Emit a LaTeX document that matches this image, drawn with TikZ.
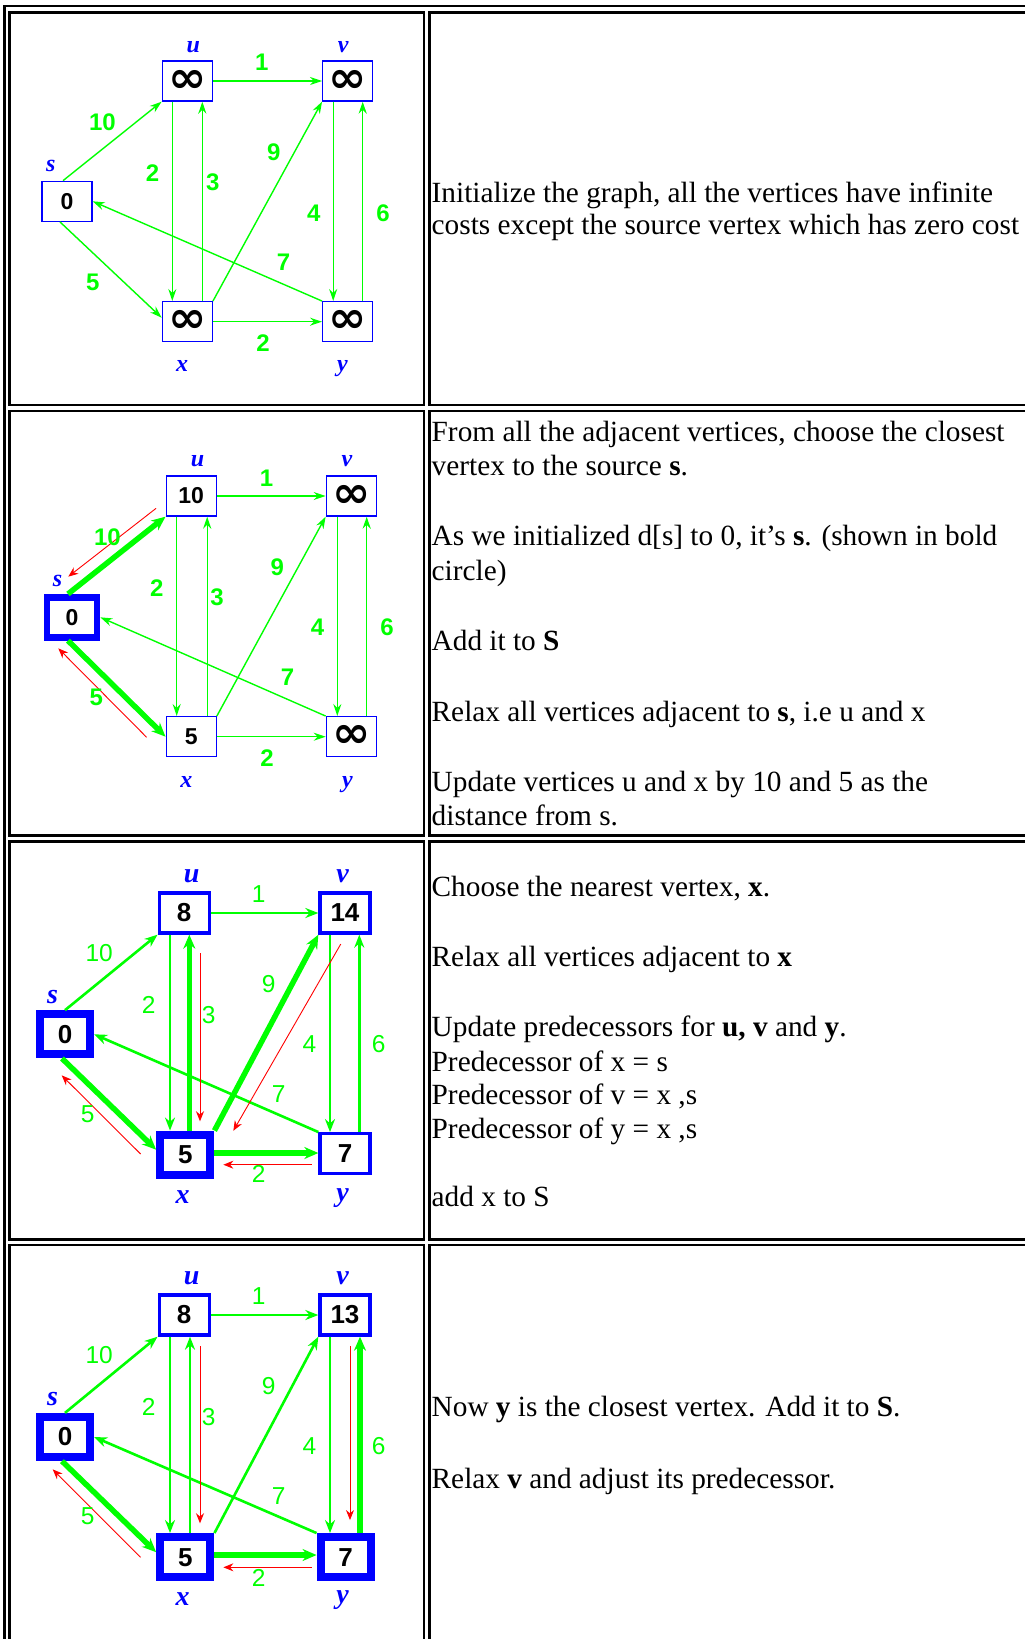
\documentclass[tikz,border=0pt]{standalone}
\usepackage{fontspec}
\usepackage{graphicx}
\setmainfont{Liberation Serif}
\setsansfont{Liberation Sans}
\newfontfamily\dejavu{DejaVu Sans}
\usetikzlibrary{arrows.meta}
\definecolor{vgreen}{RGB}{0,255,0}
\definecolor{vblue}{RGB}{0,0,255}
\definecolor{vred}{RGB}{255,0,0}
\newcommand\infglyph{\scalebox{2.0}[1.9]{\dejavu\bfseries ∞}}
\tikzset{
 cellline/.style={line width=2.7pt, draw=black},
 vbox/.style={draw=vblue, line width=#1, minimum width=50pt, minimum height=40pt, inner sep=0pt, text=black},
 valA/.style={font=\sffamily\bfseries\fontsize{23}{23}\selectfont},
 valB/.style={font=\sffamily\bfseries\fontsize{26}{26}\selectfont},
 vlabA/.style={anchor=base, inner sep=0pt, text=vblue, font=\rmfamily\bfseries\itshape\fontsize{24}{24}\selectfont},
 vlabB/.style={anchor=base, inner sep=0pt, text=vblue, font=\rmfamily\bfseries\itshape\fontsize{28}{28}\selectfont},
 wlabA/.style={inner sep=0pt, text=vgreen, font=\sffamily\bfseries\fontsize{24}{24}\selectfont},
 wlabB/.style={inner sep=0pt, text=vgreen, font=\sffamily\fontsize{24.5}{24.5}\selectfont},
 gthin/.style={draw=vgreen, line width=1.4pt, -{Stealth[length=12pt,width=8pt]}},
 gmed/.style={draw=vgreen, line width=2.6pt, -{Stealth[length=13pt,width=10pt]}},
 gthick/.style={draw=vgreen, line width=5.5pt, -{Stealth[length=14pt,width=12pt]}},
 redarr/.style={draw=vred, line width=0.9pt, -{Stealth[length=10pt,width=8pt]}},
 txt/.style={anchor=base west, inner sep=0pt, font=\fontsize{29.3}{33}\selectfont},
}
\begin{document}
\begin{tikzpicture}[x=1pt,y=-1pt]
\useasboundingbox (0,0) rectangle (1025,1639);
\clip (0,0) rectangle (1025,1639);
\fill[white] (0,0) rectangle (1025,1639);
% ---------- table ----------
\draw[cellline] (4.3,1660) -- (4.3,6) -- (1040,6);
\draw[cellline] (9.3,12.2) rectangle (424,405);
\draw[cellline] (429.3,12.2) rectangle (1040,405);
\draw[cellline] (9.3,411) rectangle (424,835.5);
\draw[cellline] (429.3,411) rectangle (1040,835.5);
\draw[cellline] (9.3,841.3) rectangle (424,1239.5);
\draw[cellline] (429.3,841.3) rectangle (1040,1239.5);
\draw[cellline] (9.3,1660) -- (9.3,1245) -- (424,1245) -- (424,1660);
\draw[cellline] (429.3,1660) -- (429.3,1245) -- (1040,1245);

% ---------- graph 1 ----------
\node[vbox=1.3pt, valA] (as) at (67,201.3) {0};
\node[vbox=1.3pt, valA] (au) at (187.3,81) {\infglyph};
\node[vbox=1.3pt, valA] (av) at (347.7,81) {\infglyph};
\node[vbox=1.3pt, valA] (ax) at (187.3,321.7) {\infglyph};
\node[vbox=1.3pt, valA] (ay) at (347.7,321.7) {\infglyph};
\node[vlabA] (asl) at (50.8,171.7) {s};
\node[vlabA] (aul) at (193.3,52.3) {u};
\node[vlabA] (avl) at (343.3,52.3) {v};
\node[vlabA] (axl) at (182.2,371.7) {x};
\node[vlabA] (ayl) at (342.5,371.7) {y};
\draw[gthin] ([xshift=-4pt]as.north) -- (au.south west);
\draw[gthin] ([xshift=-7pt]as.south) -- ([yshift=4pt]ax.west);
\draw[gthin] (au.east) -- (av.west);
\draw[gthin] ([xshift=-15pt]au.south) -- ([xshift=-15pt]ax.north);
\draw[gthin] ([xshift=15pt]ax.north) -- ([xshift=15pt]au.south);
\draw[gthin] (ax.north east) -- (av.south west);
\draw[gthin] ([xshift=-14.5pt]av.south) -- ([xshift=-14.5pt]ay.north);
\draw[gthin] ([xshift=15pt]ay.north) -- ([xshift=15pt]av.south);
\draw[gthin] (ay.north west) -- (as.east);
\draw[gthin] (ax.east) -- (ay.west);
\node[wlabA] (aw10) at (102.5,122.7) {10};
\node[wlabA] (aw1) at (261.7,62.5) {1};
\node[wlabA] (aw2) at (152.5,173.3) {2};
\node[wlabA] (aw3) at (212.8,182.5) {3};
\node[wlabA] (aw9) at (273.7,152.5) {9};
\node[wlabA] (aw4) at (313.8,213.3) {4};
\node[wlabA] (aw6) at (383,212.8) {6};
\node[wlabA] (aw7) at (283.5,262.5) {7};
\node[wlabA] (aw5) at (92.7,282.5) {5};
\node[wlabA] (aw2b) at (263,343.5) {2};

% ---------- graph 2 ----------
\node[vbox=6.7pt, valA] (bs) at (72,617.3) {0};
\node[vbox=1.3pt, valA] (bu) at (191.2,496) {10};
\node[vbox=1.3pt, valA] (bv) at (351.3,496) {\infglyph};
\node[vbox=1.3pt, valA] (bx) at (191.2,736.7) {5};
\node[vbox=1.3pt, valA] (by) at (351.3,736.7) {\infglyph};
\node[vlabA] (bsl) at (57.5,586.7) {s};
\node[vlabA] (bul) at (197.5,466) {u};
\node[vlabA] (bvl) at (347,466) {v};
\node[vlabA] (bxl) at (186.3,787.7) {x};
\node[vlabA] (byl) at (347.5,787.7) {y};
\draw[gthick] ([xshift=-4pt]bs.north) -- (bu.south west);
\draw[gthick] ([xshift=-4pt]bs.south) -- (bx.west);
\draw[gthin] (bu.east) -- (bv.west);
\draw[gthin] ([xshift=-14.5pt]bu.south) -- ([xshift=-14.5pt]bx.north);
\draw[gthin] ([xshift=16pt]bx.north) -- ([xshift=16pt]bu.south);
\draw[gthin] (bx.north east) -- (bv.south west);
\draw[gthin] ([xshift=-14pt]bv.south) -- ([xshift=-14pt]by.north);
\draw[gthin] ([xshift=15.4pt]by.north) -- ([xshift=15.4pt]bv.south);
\draw[gthin] (by.north west) -- (bs.east);
\draw[gthin] (bx.east) -- (by.west);
\draw[redarr] ([shift={(-9.5,-8.3)}]bu.south west) -- ([shift={(-3.7,-17.3)}]bs.north);
\draw[redarr] ([shift={(-18.9,0.6)}]bx.west) -- ([shift={(-13.7,7.7)}]bs.south);
\node[wlabA] (bw10) at (107.5,537.7) {10};
\node[wlabA] (bw1) at (266.5,478.3) {1};
\node[wlabA] (bw2) at (156.7,588.2) {2};
\node[wlabA] (bw3) at (217,597.5) {3};
\node[wlabA] (bw9) at (277.2,567.5) {9};
\node[wlabA] (bw4) at (317.5,627.5) {4};
\node[wlabA] (bw6) at (387,627.5) {6};
\node[wlabA] (bw7) at (287.5,677.5) {7};
\node[wlabA] (bw5) at (96.3,697.5) {5};
\node[wlabA] (bw2b) at (267,758) {2};

% ---------- graph 3 ----------
\node[vbox=8.3pt, valB] (cs) at (65,1034.3) {0};
\node[vbox=3.3pt, valB] (cu) at (184.2,913) {8};
\node[vbox=3.3pt, valB] (cv) at (345,913) {14};
\node[vbox=8.3pt, valB] (cx) at (185.3,1154.7) {5};
\node[vbox=3.3pt, valB] (cy) at (345,1153.7) {7};
\node[vlabB] (csl) at (52.5,1003) {s};
\node[vlabB] (cul) at (191.7,882.3) {u};
\node[vlabB] (cvl) at (342.5,882.3) {v};
\node[vlabB] (cxl) at (182.5,1203) {x};
\node[vlabB] (cyl) at (342.5,1201.3) {y};
\draw[gmed] (cs.north) -- (cu.south west);
\draw[gthick] ([xshift=-3pt]cs.south) -- ([yshift=5pt]cx.west);
\draw[gmed] (cu.east) -- (cv.west);
\draw[gmed] ([xshift=-14.2pt]cu.south) -- ([xshift=-15.3pt]cx.north);
\draw[gthick] ([xshift=4pt]cx.north) -- ([xshift=5.1pt]cu.south);
\draw[gthick] (cx.north east) -- (cv.south west);
\draw[gmed] ([xshift=-15pt]cv.south) -- ([xshift=-15pt]cy.north);
\draw[gmed] ([xshift=14.3pt]cy.north) -- ([xshift=14.3pt]cv.south);
\draw[gmed] (cy.north west) -- (cs.east);
\draw[gthick] ([yshift=1.7pt]cx.east) -- ([yshift=0.7pt]cy.west);
\draw[redarr] ([shift={(-15.5,-0.7)}]cx.west) -- ([shift={(-3.3,16.9)}]cs.south);
\draw[redarr] ([shift={(15.8,18.4)}]cu.south) -- ([shift={(14.7,-9.3)}]cx.north);
\draw[redarr] ([shift={(22.4,9.4)}]cv.south west) -- ([shift={(18.9,0.2)}]cx.north east);
\draw[redarr] ([shift={(-6.7,11)}]cy.west) -- ([shift={(8.9,10)}]cx.east);
\node[wlabB] (cw10) at (99.2,953.3) {10};
\node[wlabB] (cw1) at (258.7,893.8) {1};
\node[wlabB] (cw2) at (148.7,1004.5) {2};
\node[wlabB] (cw3) at (208.8,1014.8) {3};
\node[wlabB] (cw9) at (268.8,984.2) {9};
\node[wlabB] (cw4) at (309.5,1044.2) {4};
\node[wlabB] (cw6) at (378.8,1044.2) {6};
\node[wlabB] (cw7) at (278.8,1094.2) {7};
\node[wlabB] (cw5) at (87.8,1114.2) {5};
\node[wlabB] (cw2b) at (258.8,1174.2) {2};

% ---------- graph 4 ----------
\node[vbox=8.3pt, valB] (ds) at (65,1437) {0};
\node[vbox=3.3pt, valB] (du) at (184.2,1315) {8};
\node[vbox=3.3pt, valB] (dv) at (345,1315) {13};
\node[vbox=8.3pt, valB] (dx) at (185.3,1557.2) {5};
\node[vbox=8.3pt, valB] (dy) at (345.7,1557.2) {7};
\node[vlabB] (dsl) at (52.5,1405) {s};
\node[vlabB] (dul) at (191.7,1284.3) {u};
\node[vlabB] (dvl) at (342.5,1284.3) {v};
\node[vlabB] (dxl) at (182.5,1605) {x};
\node[vlabB] (dyl) at (342.5,1603.3) {y};
\draw[gmed] (ds.north) -- (du.south west);
\draw[gthick] ([xshift=-3pt]ds.south) -- ([yshift=5pt]dx.west);
\draw[gmed] (du.east) -- (dv.west);
\draw[gmed] ([xshift=-14.2pt]du.south) -- ([xshift=-15.3pt]dx.north);
\draw[gmed] ([xshift=4.7pt]dx.north) -- ([xshift=5.8pt]du.south);
\draw[gmed] (dx.north east) -- (dv.south west);
\draw[gmed] ([xshift=-15pt]dv.south) -- ([xshift=-15.7pt]dy.north);
\draw[gthick] ([xshift=14.3pt]dy.north) -- ([xshift=15pt]dv.south);
\draw[gmed] (dy.north west) -- (ds.east);
\draw[gthick] ([yshift=2.2pt]dx.east) -- ([yshift=2.2pt]dy.west);
\draw[redarr] ([shift={(-15.5,0.1)}]dx.west) -- ([shift={(-12.3,8.2)}]ds.south);
\draw[redarr] ([shift={(15.8,9.4)}]du.south) -- ([shift={(14.7,-9.8)}]dx.north);
\draw[redarr] ([shift={(5,9.4)}]dv.south) -- ([shift={(4.3,-13)}]dy.north);
\draw[redarr] ([shift={(-4.9,10.1)}]dy.west) -- ([shift={(8.9,10.1)}]dx.east);
\node[wlabB] (dw10) at (99.2,1355.3) {10};
\node[wlabB] (dw1) at (258.7,1295.8) {1};
\node[wlabB] (dw2) at (148.7,1406.5) {2};
\node[wlabB] (dw3) at (208.8,1416.8) {3};
\node[wlabB] (dw9) at (268.8,1386.2) {9};
\node[wlabB] (dw4) at (309.5,1446.2) {4};
\node[wlabB] (dw6) at (378.8,1446.2) {6};
\node[wlabB] (dw7) at (278.8,1496.2) {7};
\node[wlabB] (dw5) at (87.8,1516.2) {5};
\node[wlabB] (dw2b) at (258.8,1577.5) {2};

% ---------- texts ----------
\node[txt] (t1a) at (431.5,202.3) {Initialize the graph, all the vertices have infinite};
\node[txt] (t1b) at (431.5,234.5) {costs except the source vertex which has zero cost};

\node[txt] (t2a) at (431.5,441.7) {From all the adjacent vertices, choose the closest};
\node[txt] (t2b) at (431.5,475.7) {vertex to the source \textbf{s}.};
\node[txt] (t2c) at (431.5,545) {As we initialized d[s] to 0, it’s \textbf{s}. (shown in bold};
\node[txt] (t2d) at (431.5,580) {circle)};
\node[txt] (t2e) at (431.5,650) {Add it to \textbf{S}};
\node[txt] (t2f) at (431.5,721.7) {Relax all vertices adjacent to \textbf{s}, i.e u and x};
\node[txt] (t2g) at (431.5,791.7) {Update vertices u and x by 10 and 5 as the};
\node[txt] (t2h) at (431.5,825.7) {distance from s.};

\node[txt] (t3a) at (431.5,896.3) {Choose the nearest vertex, \textbf{x}.};
\node[txt] (t3b) at (431.5,966.3) {Relax all vertices adjacent to \textbf{x}};
\node[txt] (t3c) at (431.5,1036.3) {Update predecessors for \textbf{u, v} and \textbf{y}.};
\node[txt] (t3d) at (431.5,1071.3) {Predecessor of x = s};
\node[txt] (t3e) at (431.5,1104.7) {Predecessor of v = x ,s};
\node[txt] (t3f) at (431.5,1138) {Predecessor of y = x ,s};
\node[txt] (t3g) at (431.5,1206.3) {add x to S};

\node[txt] (t4a) at (431.5,1416.7) {Now \textbf{y} is the closest vertex. Add it to \textbf{S}.};
\node[txt] (t4b) at (431.5,1488.3) {Relax \textbf{v} and adjust its predecessor.};
\end{tikzpicture}
\end{document}
